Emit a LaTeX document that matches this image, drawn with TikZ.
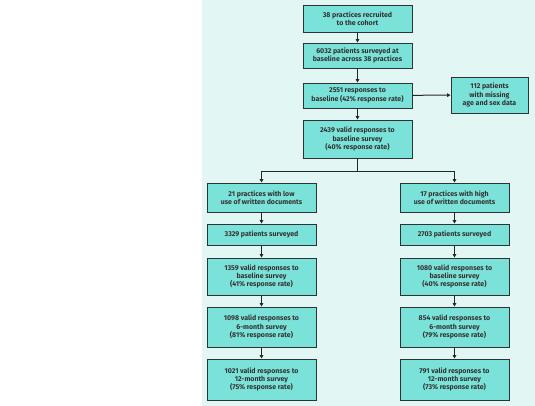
\documentclass[tikz,border=0pt]{standalone}
\usepackage{fontspec}
\setmainfont{Fira Sans}
\usepackage{xcolor}
\usepackage{tikz}
\usetikzlibrary{arrows.meta, calc, positioning}

\definecolor{panelbg}{RGB}{226,247,244}
\definecolor{boxfill}{RGB}{122,226,216}
\definecolor{boxline}{RGB}{45,50,50}

\begin{document}
\begin{tikzpicture}[x=1pt, y=1pt,
	flowbox/.style={draw=boxline, fill=boxfill, line width=0.9pt, align=center,
		font=\fontsize{7}{8.4}\selectfont\bfseries, text=black!80,
		minimum width=109pt, inner sep=1pt},
	flowarrow/.style={draw=black!85, line width=1pt, -{Triangle[length=3.5pt, width=3.6pt]}},
	flowline/.style={draw=black!85, line width=1pt}]

	\useasboundingbox (0,0) rectangle (535,-406);
	\fill[panelbg] (202,0) rectangle (535,-406);

	% centre column
	\node[flowbox, minimum height=27pt] (recruit) at (357.5,-18.5) {38 practices recruited\\to the cohort};
	\node[flowbox, minimum height=25pt] (surveyed) at (357.5,-55.5) {6032 patients surveyed at\\baseline across 38 practices};
	\node[flowbox, minimum height=25pt] (responses) at (357.5,-95.5) {2551 responses to\\baseline (42\% response rate)};
	\node[flowbox, minimum width=77pt, minimum height=36pt] (missing) at (489.5,-95) {112 patients\\with missing\\age and sex data};
	\node[flowbox, minimum height=38pt] (valid) at (357.5,-139) {2439 valid responses to\\baseline survey\\(40\% response rate)};

	% low use
	\node[flowbox, minimum height=29pt] (lowprac) at (261.5,-197.5) {21 practices with low\\use of written documents};
	\node[flowbox, minimum height=21pt] (lowsurv) at (261.5,-234.5) {3329 patients surveyed};
	\node[flowbox, minimum height=37pt] (lowbase) at (261.5,-276.5) {1359 valid responses to\\baseline survey\\(41\% response rate)};
	\node[flowbox, minimum height=40pt] (lowsix) at (261.5,-327) {1098 valid responses to\\6-month survey\\(81\% response rate)};
	\node[flowbox, minimum height=41pt] (lowtwelve) at (261.5,-379.5) {1021 valid responses to\\12-month survey\\(75\% response rate)};

	% high use
	\node[flowbox, minimum height=29pt] (highprac) at (454.5,-197.5) {17 practices with high\\use of written documents};
	\node[flowbox, minimum height=21pt] (highsurv) at (454.5,-234.5) {2703 patients surveyed};
	\node[flowbox, minimum height=37pt] (highbase) at (454.5,-276.5) {1080 valid responses to\\baseline survey\\(40\% response rate)};
	\node[flowbox, minimum height=40pt] (highsix) at (454.5,-327) {854 valid responses to\\6-month survey\\(79\% response rate)};
	\node[flowbox, minimum height=41pt] (hightwelve) at (454.5,-379.5) {791 valid responses to\\12-month survey\\(73\% response rate)};

	\draw[flowarrow] (recruit) -- (surveyed);
	\draw[flowarrow] (surveyed) -- (responses);
	\draw[flowarrow] (responses) -- (missing);
	\draw[flowarrow] (responses) -- (valid);

	\coordinate (split) at ($ (valid.south)+(0,-13) $);
	\draw[flowline] (valid.south) -- (split);
	\draw[flowarrow] (split) -| (lowprac.north);
	\draw[flowarrow] (split) -| (highprac.north);

	\draw[flowarrow] (lowprac) -- (lowsurv);
	\draw[flowarrow] (lowsurv) -- (lowbase);
	\draw[flowarrow] (lowbase) -- (lowsix);
	\draw[flowarrow] (lowsix) -- (lowtwelve);

	\draw[flowarrow] (highprac) -- (highsurv);
	\draw[flowarrow] (highsurv) -- (highbase);
	\draw[flowarrow] (highbase) -- (highsix);
	\draw[flowarrow] (highsix) -- (hightwelve);

\end{tikzpicture}
\end{document}
